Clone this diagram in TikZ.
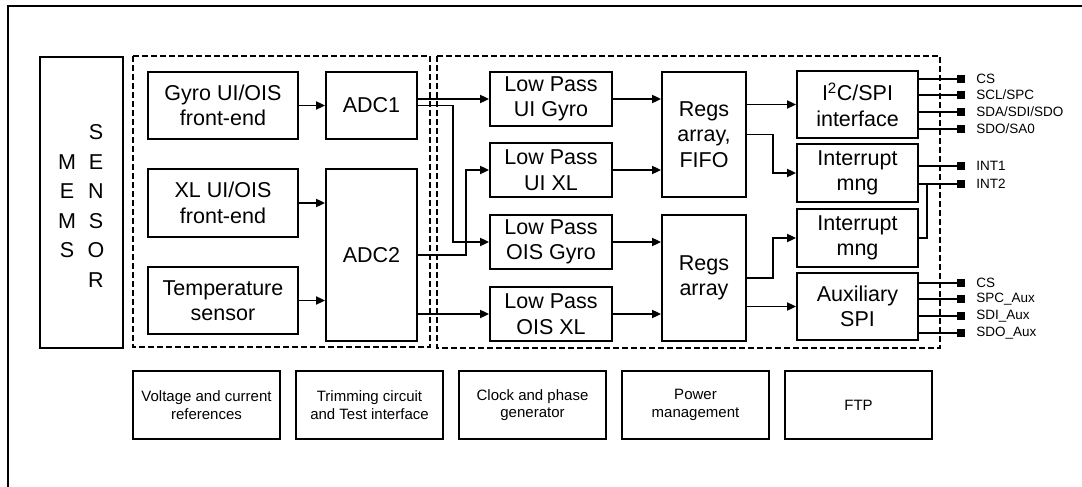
\documentclass[tikz,border=0pt]{standalone}
\usepackage{fontspec}
\setmainfont{Liberation Sans}
\usetikzlibrary{arrows.meta, positioning, calc}

\begin{document}
\begin{tikzpicture}[
  x=1pt, y=-1pt,
  >={Triangle[length=9pt, width=8pt]},
  block/.style={draw, line width=1.8pt, align=center, inner sep=2pt,
    font=\fontsize{21.5}{25.5}\selectfont},
  febox/.style={block, minimum width=150pt, minimum height=67pt},
  adcbox/.style={block, minimum width=91pt},
  lpbox/.style={block, minimum width=122pt, minimum height=54pt},
  regbox/.style={block, minimum width=84pt},
  ifbox/.style={block, minimum width=121pt},
  sysbox/.style={draw, line width=2pt, align=center, minimum width=147pt,
    minimum height=68pt, font=\fontsize{15}{17.5}\selectfont},
  grp/.style={draw, line width=1.5pt, dash pattern=on 6pt off 3pt},
  wire/.style={->, line width=1.8pt},
  pinwire/.style={line width=1.8pt},
  pinsq/.style={fill=black, minimum size=8pt, inner sep=0pt},
  pintxt/.style={inner sep=0pt, anchor=west, font=\fontsize{13.5}{15}\selectfont},
]

% Frame
\useasboundingbox (0,0) rectangle (1082,487);
\draw[line width=1.5pt] (8,487) -- (8,6) -- (1082,6);

% =============================================
% Sensor and analog front-ends
% =============================================
\node[draw, line width=1.8pt, minimum width=83pt, minimum height=291pt] (mems) at (81.5,202.5) {};
\node[align=center, font=\fontsize{21.5}{29.5}\selectfont] (memstxt) at (67,206) {M\\E\\M\\S};
\node[align=center, font=\fontsize{21.5}{29.5}\selectfont] (sensortxt) at (96,206) {S\\E\\N\\S\\O\\R};

\draw[grp] (133,56) rectangle (430,347);

\node[febox] (gyro) at (223,105.5) {Gyro UI/OIS\\front-end};
\node[febox, minimum height=68pt] (xlfe) at (223,203) {XL UI/OIS\\front-end};
\node[febox] (temp) at (223,300.5) {Temperature\\sensor};

\node[adcbox, minimum height=67pt] (adc1) at (371.5,105.5) {ADC1};
\node[adcbox, minimum height=172pt] (adc2) at (371.5,255) {ADC2};

\draw[wire] (gyro.east) -- (adc1.west);
\draw[wire] (xlfe.east) -- (xlfe.east -| adc2.west);
\draw[wire] (temp.east) -- (temp.east -| adc2.west);

% =============================================
% Digital filtering and registers
% =============================================
\draw[grp] (437,56) rectangle (940,348);

\node[lpbox] (lpuig) at (551,99) {Low Pass\\UI Gyro};
\node[lpbox] (lpuixl) at (551,170) {Low Pass\\UI XL};
\node[lpbox] (lpoisg) at (551,242) {Low Pass\\OIS Gyro};
\node[lpbox] (lpoisxl) at (551,314) {Low Pass\\OIS XL};

\draw[wire] (adc1.east |- lpuig.west) -- (lpuig.west);
\draw[wire] (adc1.east) -- ++(35,0) |- (lpoisg.west);
\draw[wire] (adc2.east) -- ++(48,0) |- (lpuixl.west);
\draw[wire] (adc2.east |- lpoisxl.west) -- (lpoisxl.west);

\node[regbox, minimum height=125pt] (regsfifo) at (704,134.5) {Regs\\array,\\FIFO};
\node[regbox, minimum height=126pt] (regs) at (704,278) {Regs\\array};

\draw[wire] (lpuig.east) -- (lpuig.east -| regsfifo.west);
\draw[wire] (lpuixl.east) -- (lpuixl.east -| regsfifo.west);
\draw[wire] (lpoisg.east) -- (lpoisg.east -| regs.west);
\draw[wire] (lpoisxl.east) -- (lpoisxl.east -| regs.west);

% =============================================
% Interfaces
% =============================================
\node[ifbox, minimum height=67pt] (i2c) at (857.5,104.5) {I\textsuperscript{2}C/SPI\\interface};
\node[ifbox, minimum height=58pt] (int1) at (857.5,173) {Interrupt\\mng};
\node[ifbox, minimum height=58pt] (int2) at (857.5,238) {Interrupt\\mng};
\node[ifbox, minimum height=67pt] (aux) at (857.5,306.5) {Auxiliary\\SPI};

\draw[wire] (regsfifo.east |- i2c.west) -- (i2c.west);
\draw[wire] (regsfifo.east) -- ++(26,0) |- (int1.west);
\draw[wire] (regs.east) -- ++(26,0) |- (int2.west);
\draw[wire] (regs.east |- aux.west) -- (aux.west);

% Pins
\node[pinsq] (pcs) at (961,79) {};
\node[pinsq] (pscl) at (961,95) {};
\node[pinsq] (psda) at (961,112) {};
\node[pinsq] (psdo) at (961,129) {};
\node[pinsq] (pint1) at (961,166) {};
\node[pinsq] (pint2) at (961,184) {};
\node[pinsq] (pauxcs) at (961,283) {};
\node[pinsq] (pspc) at (961,299) {};
\node[pinsq] (psdi) at (961,316) {};
\node[pinsq] (psdoaux) at (961,333) {};

\node[pintxt, right=11pt of pcs] (tcs) {CS};
\node[pintxt, right=11pt of pscl] (tscl) {SCL/SPC};
\node[pintxt, right=11pt of psda] (tsda) {SDA/SDI/SDO};
\node[pintxt, right=11pt of psdo] (tsdo) {SDO/SA0};
\node[pintxt, right=11pt of pint1] (tint1) {INT1};
\node[pintxt, right=11pt of pint2] (tint2) {INT2};
\node[pintxt, right=11pt of pauxcs] (tauxcs) {CS};
\node[pintxt, right=11pt of pspc] (tspc) {SPC\_Aux};
\node[pintxt, right=11pt of psdi] (tsdi) {SDI\_Aux};
\node[pintxt, right=11pt of psdoaux] (tsdoaux) {SDO\_Aux};

\draw[pinwire] (i2c.east |- pcs) -- (pcs);
\draw[pinwire] (i2c.east |- pscl) -- (pscl);
\draw[pinwire] (i2c.east |- psda) -- (psda);
\draw[pinwire] (i2c.east |- psdo) -- (psdo);
\draw[pinwire] (int1.east |- pint1) -- (pint1);
\draw[pinwire] (int1.east |- pint2) -- (pint2);
\draw[pinwire] (int2.east) -- ++(8,0) |- (pint2);
\draw[pinwire] (aux.east |- pauxcs) -- (pauxcs);
\draw[pinwire] (aux.east |- pspc) -- (pspc);
\draw[pinwire] (aux.east |- psdi) -- (psdi);
\draw[pinwire] (aux.east |- psdoaux) -- (psdoaux);

% =============================================
% System blocks (bottom row)
% =============================================
\node[sysbox] (vref) at (206.5,405) {Voltage and current\\references};
\node[sysbox, right=14pt of vref] (trim) {Trimming circuit\\and Test interface};
\node[sysbox, right=14pt of trim] (clk) {Clock and phase\\generator};
\node[sysbox, right=14pt of clk] (pwr) {Power\\management};
\node[sysbox, right=14pt of pwr] (ftp) {FTP};

\end{tikzpicture}
\end{document}
